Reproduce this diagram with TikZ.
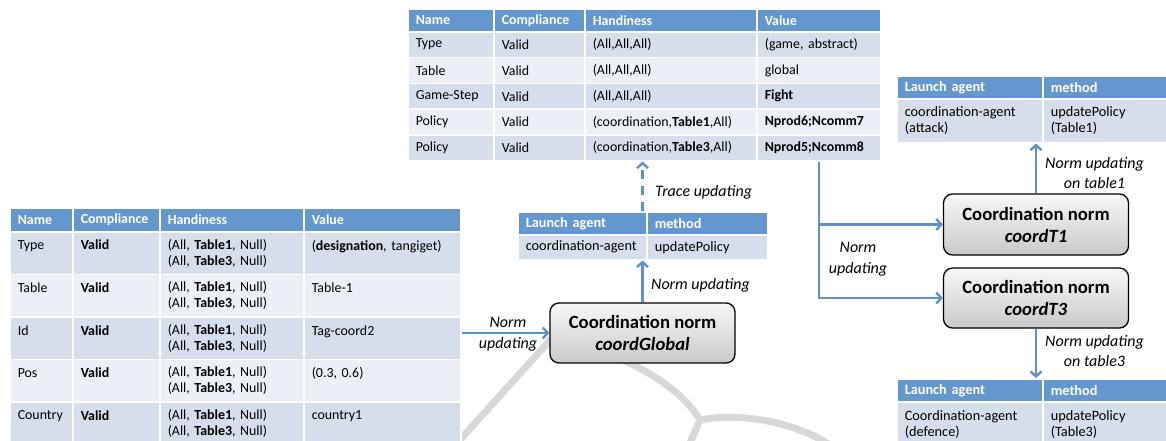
\documentclass[tikz,border=0pt]{standalone}
\usepackage{fontspec}
\setmainfont{Carlito}
\usetikzlibrary{arrows.meta,calc}
\definecolor{hdr}{HTML}{6397CD}
\definecolor{rowd}{HTML}{D6DEEC}
\definecolor{rowl}{HTML}{ECF0F6}
\definecolor{arr}{HTML}{5F91C8}
\definecolor{wm}{HTML}{D8D8D8}
\tikzset{
 cellbase/.style={draw=white, line width=1.5pt, anchor=north west, inner xsep=8pt, inner ysep=0pt, align=left, font=\fontsize{13.9}{16}\selectfont},
 hcell/.style={cellbase, fill=hdr, text=white, font=\fontsize{13.9}{16}\selectfont\bfseries},
 dcell/.style={cellbase, fill=rowd},
 lcell/.style={cellbase, fill=rowl},
 lhcell/.style={hcell, font=\fontsize{14.3}{16}\selectfont\bfseries},
 ldcell/.style={dcell, font=\fontsize{14.3}{16}\selectfont},
 normbox/.style={draw=black, line width=1.3pt, rounded corners=9pt, top color=gray!6, bottom color=gray!42, align=center, font=\fontsize{18.7}{22}\selectfont\bfseries, minimum width=185pt, minimum height=60pt, inner sep=0pt},
 conn/.style={draw=arr, line width=2.4pt, -{Straight Barb[length=5pt,width=11pt]}},
 lbl/.style={font=\fontsize{16}{20.5}\selectfont\itshape, align=center, inner sep=0pt},
 wmark/.style={draw=wm, line width=7pt},
}
\newcommand\tcell[7]{\node[#6, minimum width=#4pt, minimum height=#5pt, text width=#4pt-16pt] (#1) at (#2,#3) {#7};}
% top table row
\newcommand\toprow[8]{%
 \tcell{T#11}{407}{#2}{86}{#3}{#4}{#5}
 \tcell{T#12}{493}{#2}{91}{#3}{#4}{#6}
 \tcell{T#13}{584}{#2}{172}{#3}{#4}{#7}
 \tcell{T#14}{756}{#2}{124}{#3}{#4}{#8}}
% left table row
\newcommand\leftrow[8]{%
 \tcell{L#11}{9}{#2}{63}{#3}{#4}{#5}
 \tcell{L#12}{72}{#2}{87}{#3}{#4}{#6}
 \tcell{L#13}{159}{#2}{144}{#3}{#4}{#7}
 \tcell{L#14}{303}{#2}{157}{#3}{#4}{#8}}
\newcommand\hand{(All, \textbf{Table1}, Null)\\(All, \textbf{Table3}, Null)}
\begin{document}
\begin{tikzpicture}[x=1pt,y=-1pt]
\useasboundingbox (0,0) rectangle (1166,440);
\clip (0,0) rectangle (1166,440);
% watermark
\draw[wmark] (458,442) -- (552,338);
\draw[wmark] (552,336) .. controls (610,350) and (675,378) .. (700,420);
\draw[wmark] (700,420) -- (689,445);
\draw[wmark] (700,420) .. controls (740,412) and (795,422) .. (830,445);
% top table
\toprow{0}{8}{23}{hcell}{Name}{Compliance}{Handiness}{Value}
\toprow{1}{31}{25.8}{dcell}{Type}{Valid}{(All,All,All)}{(game, abstract)}
\toprow{2}{56.8}{25.8}{lcell}{Table}{Valid}{(All,All,All)}{global}
\toprow{3}{82.6}{25.8}{dcell}{Game-Step}{Valid}{(All,All,All)}{\textbf{Fight}}
\toprow{4}{108.4}{25.8}{lcell}{Policy}{Valid}{(coordination,\textbf{Table1},All)}{\textbf{Nprod6;Ncomm7}}
\toprow{5}{134.2}{25.8}{dcell}{Policy}{Valid}{(coordination,\textbf{Table3},All)}{\textbf{Nprod5;Ncomm8}}
% left table
\leftrow{0}{207}{24}{hcell}{Name}{Compliance}{Handiness}{Value}
\leftrow{1}{231}{42.6}{dcell}{Type\\\mbox{}}{\textbf{Valid}\\\mbox{}}{\hand}{(\textbf{designation}, tangiget)\\\mbox{}}
\leftrow{2}{273.6}{42.6}{lcell}{Table\\\mbox{}}{\textbf{Valid}\\\mbox{}}{\hand}{Table-1\\\mbox{}}
\leftrow{3}{316.2}{42.6}{dcell}{Id\\\mbox{}}{\textbf{Valid}\\\mbox{}}{\hand}{Tag-coord2\\\mbox{}}
\leftrow{4}{358.8}{42.6}{lcell}{Pos\\\mbox{}}{\textbf{Valid}\\\mbox{}}{\hand}{(0.3, 0.6)\\\mbox{}}
\leftrow{5}{401.4}{42.6}{dcell}{Country\\\mbox{}}{\textbf{Valid}\\\mbox{}}{\hand}{country1\\\mbox{}}
% centre launch table
\tcell{CH1}{517}{211}{129}{23}{lhcell}{Launch agent}
\tcell{CH2}{646}{211}{121}{23}{lhcell}{method}
\tcell{CR1}{517}{234}{129}{25}{ldcell}{coordination-agent}
\tcell{CR2}{646}{234}{121}{25}{ldcell}{updatePolicy}
% right top launch table
\tcell{RH1}{896}{75}{146}{23}{lhcell}{Launch agent}
\tcell{RH2}{1042}{75}{130}{23}{lhcell}{method}
\tcell{RR1}{896}{98}{146}{44}{ldcell}{coordination-agent\\(attack)}
\tcell{RR2}{1042}{98}{130}{44}{ldcell}{updatePolicy\\(Table1)}
% bottom right launch table
\tcell{BH1}{896}{378}{146}{23}{lhcell}{Launch agent}
\tcell{BH2}{1042}{378}{130}{23}{lhcell}{method}
\tcell{BR1}{896}{401}{146}{46}{ldcell}{Coordination-agent\\(defence)}
\tcell{BR2}{1042}{401}{130}{46}{ldcell}{updatePolicy\\(Table3)}
% norm nodes
\node[normbox] (cG) at (642.5,333) {Coordination norm\\\textit{coordGlobal}};
\node[normbox, minimum height=61pt] (cT1) at (1036,224.5) {Coordination norm\\\textit{coordT1}};
\node[normbox] (cT3) at (1036,298) {Coordination norm\\\textit{coordT3}};
% connectors
\draw[conn] (L34.east |- cG.west) -- (cG.west);
\draw[conn] (cG.north) -- (cG.north |- CR1.south);
\draw[conn, dashed, dash pattern=on 9pt off 7pt] (cG.north |- CH1.north) -- (cG.north |- T51.south);
\draw[conn] (T54.south) -- (T54.south |- cT3.west) -- (cT3.west);
\draw[conn] (T54.south |- cT1.west) -- (cT1.west);
\draw[conn] (cT1.north) -- (cT1.north |- RR1.south);
\draw[conn] (cT3.south) -- (cT3.south |- BH1.north);
% labels
\node[lbl] (l1) at (508,334) {Norm\\updating};
\node[lbl, anchor=west] (l2) at (651,285) {Norm updating};
\node[lbl, anchor=west] (l3) at (655,192) {Trace updating};
\node[lbl] (l4) at (858,259) {Norm\\updating};
\node[lbl] (l5) at (1094.5,173) {Norm updating\\on table1};
\node[lbl] (l6) at (1094.5,351) {Norm updating\\on table3};
\end{tikzpicture}
\end{document}
